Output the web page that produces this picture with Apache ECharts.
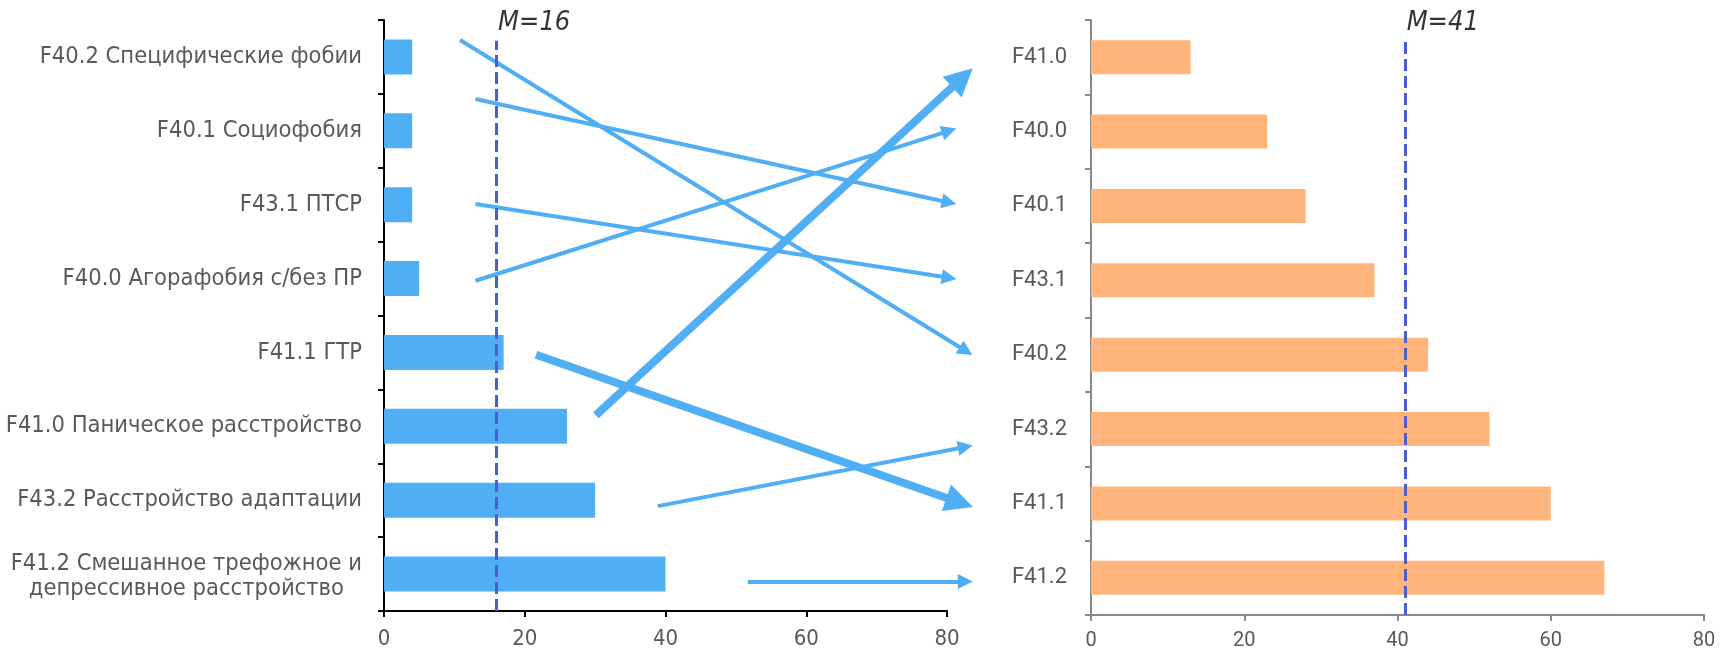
<!DOCTYPE html>
<html>
<head>
<meta charset="utf-8">
<title>F40–F43</title>
<script src="https://cdn.jsdelivr.net/npm/echarts@6/dist/echarts.min.js"></script>
<style>
  html, body { margin: 0; padding: 0; background: #ffffff; }
  #chart { width: 1727px; height: 651px; }
</style>
</head>
<body>
<div id="chart"></div>
<script>
// Left panel: diagnoses (top to bottom)
const leftCategories = [
  'F40.2 Специфические фобии',
  'F40.1 Социофобия',
  'F43.1 ПТСР',
  'F40.0 Агорафобия с/без ПР',
  'F41.1 ГТР',
  'F41.0 Паническое расстройство',
  'F43.2 Расстройство адаптации',
  'F41.2 Смешанное трефожное и\nдепрессивное расстройство'
];
const leftValues = [4, 4, 4, 5, 17, 26, 30, 40];

// Right panel: diagnosis codes (top to bottom)
const rightCategories = ['F41.0', 'F40.0', 'F40.1', 'F43.1', 'F40.2', 'F43.2', 'F41.1', 'F41.2'];
const rightValues = [13, 23, 28, 37, 44, 52, 60, 67];

// Value axis ticks (shared by both panels)
const xTicks = [0, 20, 40, 60, 80];

// Medians
const medianLeft = 16;
const medianRight = 41;

// Rank-change arrows, in left-panel units: x along the value axis, row = band index
const arrowCodes    = ['F40.2', 'F40.1', 'F43.1', 'F40.0', 'F41.1', 'F41.0', 'F43.2', 'F41.2'];
const arrowStartX   = [10.8, 13.0, 13.0, 13.0, 21.6, 30.1, 38.9, 51.7];
const arrowStartRow = [-0.23, 0.57, 1.99, 3.03, 4.03, 4.85, 6.08, 7.10];
const arrowEndX     = [82.7, 80.3, 80.3, 80.3, 81.8, 82.2, 82.6, 82.6];
const arrowEndRow   = [3.98, 1.97, 2.99, 1.00, 6.03, 0.28, 5.28, 7.10];
const arrowHighlighted = ['F41.1', 'F41.0'];

const BLUE = '#4FAEF4';
const ORANGE = '#FFB47B';
const MEDIAN = '#4A5FCF';
const LABEL = '#595959';
const NARROW = "'DejaVu Sans Condensed', 'Liberation Sans Narrow', 'Roboto Condensed', sans-serif";
const WIDE = "Roboto, 'Noto Sans', sans-serif";

const xMin = xTicks[0];
const xMax = xTicks[xTicks.length - 1];
const xStep = xTicks[1] - xTicks[0];
const rowMin = -0.5;
const rowMax = leftCategories.length - 0.5;

const chart = echarts.init(document.getElementById('chart'), null, { renderer: 'canvas' });

function valueAxis(gridIndex, lineColor, fontFamily, fontSize, margin) {
  return {
    type: 'value', gridIndex: gridIndex,
    min: xMin, max: xMax, interval: xStep,
    axisLine: { show: true, onZero: false, lineStyle: { color: lineColor, width: 2 } },
    axisTick: { show: true, length: 6, lineStyle: { color: lineColor, width: 2 } },
    splitLine: { show: false },
    axisLabel: { color: LABEL, fontSize: fontSize, fontFamily: fontFamily, margin: margin }
  };
}

function rowAxis(gridIndex) {
  return {
    type: 'value', gridIndex: gridIndex, show: false,
    min: rowMin, max: rowMax, inverse: true,
    axisLine: { onZero: false }
  };
}

function medianSeries(xAxisIndex, yAxisIndex, value) {
  return [
    {
      type: 'lines', coordinateSystem: 'cartesian2d',
      xAxisIndex: xAxisIndex, yAxisIndex: yAxisIndex,
      clip: false, z: 5, silent: true,
      symbol: ['none', 'none'],
      lineStyle: { color: MEDIAN, width: 3, type: [12, 5], opacity: 1 },
      data: [{ coords: [[value, rowMax], [value, -0.22]] }]
    },
    {
      type: 'scatter', xAxisIndex: xAxisIndex, yAxisIndex: yAxisIndex,
      clip: false, z: 6, silent: true,
      symbolSize: 1, itemStyle: { color: 'rgba(0,0,0,0)' },
      label: {
        show: true, position: 'right', distance: 1, offset: [0, 3],
        formatter: 'M=' + value,
        color: '#000000', fontSize: 27, fontStyle: 'italic', fontFamily: NARROW
      },
      data: [[value, rowMin]]
    }
  ];
}

const arrowSeries = arrowCodes.map(function (code, i) {
  const strong = arrowHighlighted.indexOf(code) >= 0;
  return {
    type: 'lines', coordinateSystem: 'cartesian2d',
    xAxisIndex: 0, yAxisIndex: 1,
    clip: false, z: 3, silent: true,
    symbol: ['none', 'triangle'],
    symbolSize: [0, strong ? 28 : 15],
    lineStyle: { color: BLUE, width: strong ? 8 : 4, opacity: 1, cap: 'butt' },
    itemStyle: { color: BLUE },
    data: [{ coords: [[arrowStartX[i], arrowStartRow[i]], [arrowEndX[i], arrowEndRow[i]]] }]
  };
});

const option = {
  animation: false,
  backgroundColor: '#ffffff',
  grid: [
    { left: 384, top: 20, width: 563, height: 591, containLabel: false },
    { left: 1091, top: 20, width: 613, height: 596, containLabel: false }
  ],
  xAxis: [
    valueAxis(0, '#000000', NARROW, 22, 17),
    valueAxis(1, '#898989', WIDE, 20, 16)
  ],
  yAxis: [
    {
      type: 'category', gridIndex: 0, inverse: true, data: leftCategories,
      axisLine: { show: true, onZero: false, lineStyle: { color: '#000000', width: 2 } },
      axisTick: { show: true, length: 6, lineStyle: { color: '#000000', width: 2 } },
      axisLabel: {
        color: LABEL, fontSize: 23.5, fontFamily: NARROW, margin: 22, interval: 0,
        formatter: function (v) {
          const parts = v.split('\n');
          if (parts.length < 2) return v;
          return '{a|' + parts[0] + '}\n{b|' + parts[1] + '}';
        },
        rich: {
          a: { color: LABEL, fontSize: 23.5, fontFamily: NARROW, lineHeight: 29, verticalAlign: 'bottom' },
          b: { color: LABEL, fontSize: 23.5, fontFamily: NARROW, lineHeight: 25, align: 'center' }
        }
      }
    },
    rowAxis(0),
    {
      type: 'category', gridIndex: 1, inverse: true, data: rightCategories,
      axisLine: { show: true, onZero: false, lineStyle: { color: '#898989', width: 2 } },
      axisTick: { show: true, length: 6, lineStyle: { color: '#898989', width: 2 } },
      axisLabel: { color: LABEL, fontSize: 22, fontFamily: WIDE, margin: 24, interval: 0 }
    },
    rowAxis(1)
  ],
  series: [
    {
      type: 'bar', xAxisIndex: 0, yAxisIndex: 0, data: leftValues,
      barWidth: 35, itemStyle: { color: BLUE }, silent: true, z: 2
    },
    {
      type: 'bar', xAxisIndex: 1, yAxisIndex: 2, data: rightValues,
      barWidth: 34, itemStyle: { color: ORANGE }, silent: true, z: 2
    }
  ].concat(arrowSeries, medianSeries(0, 1, medianLeft), medianSeries(1, 3, medianRight))
};

chart.setOption(option);
</script>
</body>
</html>
